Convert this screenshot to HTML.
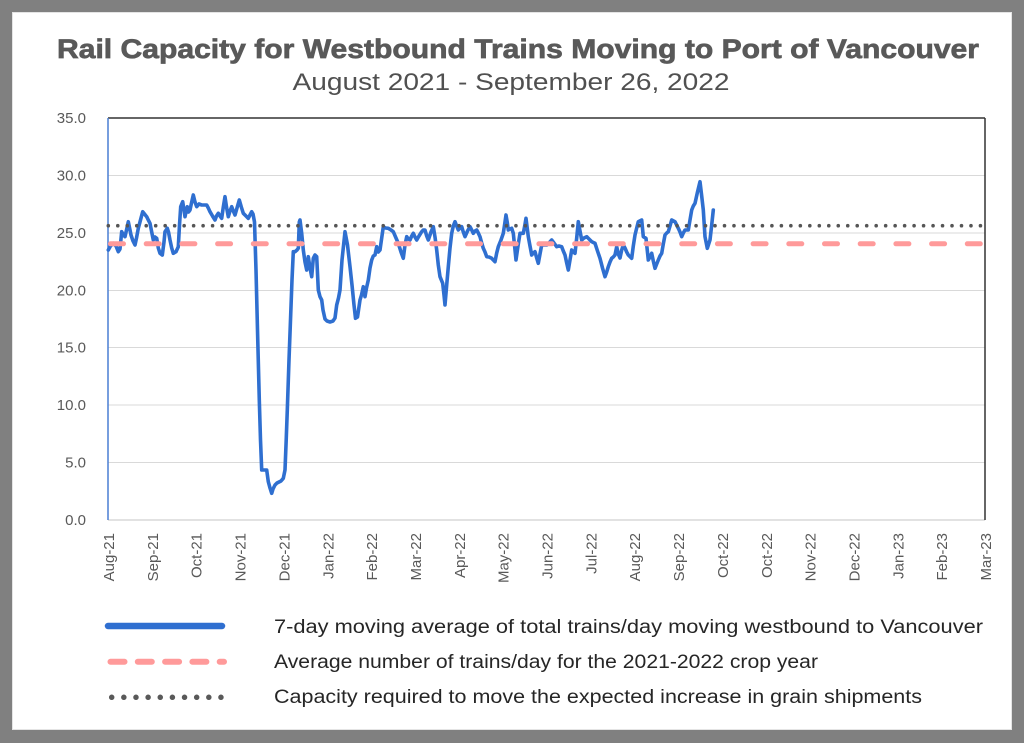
<!DOCTYPE html>
<html><head><meta charset="utf-8"><style>
html,body{margin:0;padding:0;background:#808080;}
body{width:1024px;height:743px;overflow:hidden;position:relative;}
.card{position:absolute;left:12px;top:12px;width:998px;height:716px;background:#fff;border:1px solid #e4e4e4;}
svg{position:absolute;left:0;top:0;}
</style></head><body>
<div class="card"></div>
<svg width="1024" height="743" viewBox="0 0 1024 743" xmlns="http://www.w3.org/2000/svg" font-family="Liberation Sans, sans-serif">
<text x="518" y="58" text-anchor="middle" font-size="27" font-weight="bold" fill="#595959" stroke="#595959" stroke-width="0.7" textLength="922" lengthAdjust="spacingAndGlyphs">Rail Capacity for Westbound Trains Moving to Port of Vancouver</text>
<text x="511" y="90" text-anchor="middle" font-size="24" fill="#505050" textLength="437" lengthAdjust="spacingAndGlyphs">August 2021 - September 26, 2022</text>
<g stroke="#d9d9d9" stroke-width="1">
<line x1="108" y1="175.5" x2="985" y2="175.5"/>
<line x1="108" y1="233" x2="985" y2="233"/>
<line x1="108" y1="290.5" x2="985" y2="290.5"/>
<line x1="108" y1="347.5" x2="985" y2="347.5"/>
<line x1="108" y1="405" x2="985" y2="405"/>
<line x1="108" y1="462.5" x2="985" y2="462.5"/>
<line x1="108" y1="520" x2="985" y2="520" stroke-width="1.5"/>
</g>
<line x1="108" y1="118" x2="985" y2="118" stroke="#333" stroke-width="1.5"/>
<line x1="985" y1="118" x2="985" y2="520" stroke="#333" stroke-width="1.5"/>
<line x1="108" y1="118" x2="108" y2="520" stroke="#4a7fd4" stroke-width="1.5"/>
<g font-size="15" fill="#595959" text-anchor="end">
<text x="86" y="123">35.0</text>
<text x="86" y="180.5">30.0</text>
<text x="86" y="238">25.0</text>
<text x="86" y="295.5">20.0</text>
<text x="86" y="352.5">15.0</text>
<text x="86" y="410">10.0</text>
<text x="86" y="467.5">5.0</text>
<text x="86" y="525">0.0</text>
</g>
<g font-size="15" fill="#595959" text-anchor="end">
<text transform="translate(114,533) rotate(-90)">Aug-21</text>
<text transform="translate(157.9,533) rotate(-90)">Sep-21</text>
<text transform="translate(201.7,533) rotate(-90)">Oct-21</text>
<text transform="translate(245.6,533) rotate(-90)">Nov-21</text>
<text transform="translate(289.4,533) rotate(-90)">Dec-21</text>
<text transform="translate(333.3,533) rotate(-90)">Jan-22</text>
<text transform="translate(377.1,533) rotate(-90)">Feb-22</text>
<text transform="translate(421,533) rotate(-90)">Mar-22</text>
<text transform="translate(464.8,533) rotate(-90)">Apr-22</text>
<text transform="translate(508.7,533) rotate(-90)">May-22</text>
<text transform="translate(552.5,533) rotate(-90)">Jun-22</text>
<text transform="translate(596.4,533) rotate(-90)">Jul-22</text>
<text transform="translate(640.2,533) rotate(-90)">Aug-22</text>
<text transform="translate(684.1,533) rotate(-90)">Sep-22</text>
<text transform="translate(727.9,533) rotate(-90)">Oct-22</text>
<text transform="translate(771.8,533) rotate(-90)">Oct-22</text>
<text transform="translate(815.6,533) rotate(-90)">Nov-22</text>
<text transform="translate(859.5,533) rotate(-90)">Dec-22</text>
<text transform="translate(903.3,533) rotate(-90)">Jan-23</text>
<text transform="translate(947.2,533) rotate(-90)">Feb-23</text>
<text transform="translate(991,533) rotate(-90)">Mar-23</text>
</g>
<polyline fill="none" stroke="#2f6fd0" stroke-width="3.6" stroke-linejoin="round" stroke-linecap="round" points="108.3,250 110.5,246 113.3,243.3 116,246 118.3,251.7 120,249 121.7,231.7 123.5,235 125,236.7 126.5,230 128.3,221.7 130,230 131,235 133,241 135,245 136.5,238 138.3,228.3 140.5,220 142.7,211.7 144.5,214 146.7,216.7 148.3,220 150,223.3 151.7,232 153.3,240 155,237 156.7,238.3 158.3,248 160,253.3 162.3,255 164,242 165,231.7 167.3,228.3 168.5,232 170,240 171.7,248 173.3,253.3 176,251.7 178.3,246.7 179.5,225 180.7,206.7 182.7,201.7 184,210 185,216.7 186,212 187.3,206.7 188.5,212 190,210 191.7,202 193.3,195 195,202 196.7,206.7 199,204 201.7,205 204,205 206.7,205 208.3,208 210,211.7 212.5,216 215,220 216.5,216 218.3,213.3 220,216 221.7,218.3 223.3,207 225,196.7 226.5,207 228.3,216.7 230,211 231.7,206.7 233.3,211 235,215 237,208 239.3,200 241.3,207 243.3,213.3 246,216 248.3,218.3 250,215 251.7,211.7 253,214 254.5,222 256,270 257.5,330 259.3,400 260.5,440 261.7,470 264,470 266.7,470 268.3,481.7 270,488 271.7,493.3 273,489 275,485 277,483 279,482 281,481 283.3,478.3 285,470 286.2,440 287.3,410 289,360 290.5,320 292,280 293.3,251.7 295,251.7 297,250 298.3,248.3 299.3,222 300,220 301.7,233.3 303.3,250 305,262 306.7,270 308.3,256.7 310,268 311.7,276.7 313.3,258.3 315,255 316.7,256.7 318.3,290 320,296.7 321.7,300 323,310 325,319 327,321 330,322 333,321 335,318 336.7,305 338.5,298 340,290 342,260 345,231.7 347.5,245 350,266.7 352,285 354,305 355.5,318.3 357.5,317 360,300 361.5,295 363.3,286.7 365,296.7 366.5,288 368.3,280 370,268 371.7,260 373.3,256 375,255 376.7,246.7 378.3,252 380,250 381.7,238 383.3,226.7 385.5,228 388.3,228.3 391,230 393.3,231.7 396,238 398.3,243.3 401,252 403.3,258.3 405,245 406.7,236.7 408.3,239 410,240 411.7,236 413.3,233.3 415,237 416.7,240 419,236 421.7,231.7 423.3,230 425,230 426.7,236 428.3,240 431,232 433.3,226.7 435,237 436.7,250 438.3,265 440,276.7 442.7,283.3 444,295 445,305 446.7,285 448.3,266.7 450,248 451.7,233.3 453.3,226 455,221.7 456.7,226 458.3,230 460,228 461.7,226.7 463.3,232 465,236.7 467.5,231 470,226.7 471.7,230 473.3,233.3 475,231 476.7,230 478.3,233 480,236.7 481.7,243 483.3,248.3 485,252 486.7,256.7 489,257 491.7,258.3 493.3,260 495,261.7 496.7,253 498.3,246.7 501,240 503.3,233.3 504.7,224 506,215 507.2,222 508.3,230 510,229 511.7,228.3 513.3,233.3 514.7,247 516,260 518,246 520,233.3 523.3,233.3 524.7,226 526,218.3 527.2,228 528.3,236.7 530,246 531.7,255 533.3,253 535,251.7 536.7,258 538.3,263.3 540,254 541.7,245 544,245 546.7,245 549,243 551.7,240 554,243 556.7,246.7 559,246 561.7,246.7 563.3,251 565,255 566.7,263 568.3,270 570,260 571.7,250 573.3,252 575,253.3 576.7,238 578.3,221.7 580,231 581.7,240 584,238 586.7,236.7 589,239 591.7,241.7 593.3,242.5 595,243.3 597.5,251 600,258.3 602.5,268 605,276.7 606.7,272 608.3,266.7 610,262 611.7,258.3 613.3,257 615,255 616.7,246.7 618.3,254 620,258 621.7,250 623.3,245 625,248 626.7,252 628.3,255 631.7,258.3 633.3,246 635,235 636.7,228 638.3,221.7 641.7,220 643.3,236.7 646,238.3 648.3,260 650,257 651.7,253.3 653.3,261 655,268.3 656.7,264 658.3,260 660,256 661.7,253.3 663.3,244 665,235 666.7,233 668.3,231.7 670,226 671.7,220 675,221.7 678.3,228.3 680,232 681.7,236.7 683.3,233 685,230 688.3,230 690,220 691.7,210 693.3,206 695,203.3 697.5,192 700,181.7 701.7,196 703.3,210 705,236.7 707.3,248.3 710,240 711.7,225 713.3,210"/>
<line x1="110.5" y1="243.8" x2="985" y2="243.8" stroke="#ff9a9a" stroke-width="5" stroke-linecap="round" stroke-dasharray="13 22.7"/>
<line x1="108.3" y1="225.7" x2="985" y2="225.7" stroke="#555" stroke-width="3.6" stroke-linecap="round" stroke-dasharray="0 9.48"/>
<line x1="108" y1="626" x2="222" y2="626" stroke="#2f6fd0" stroke-width="6.5" stroke-linecap="round"/>
<line x1="110.5" y1="661.7" x2="224" y2="661.7" stroke="#ff9a9a" stroke-width="6" stroke-linecap="round" stroke-dasharray="14 13.3"/>
<line x1="111.7" y1="697.3" x2="221" y2="697.3" stroke="#595959" stroke-width="5.5" stroke-linecap="round" stroke-dasharray="0 12.14"/>
<g font-size="19" fill="#262626">
<text x="274" y="633" textLength="709" lengthAdjust="spacingAndGlyphs">7-day moving average of total trains/day moving westbound to Vancouver</text>
<text x="274" y="668" textLength="544" lengthAdjust="spacingAndGlyphs">Average number of trains/day for the 2021-2022 crop year</text>
<text x="274" y="703" textLength="648" lengthAdjust="spacingAndGlyphs">Capacity required to move the expected increase in grain shipments</text>
</g>
</svg>
</body></html>
